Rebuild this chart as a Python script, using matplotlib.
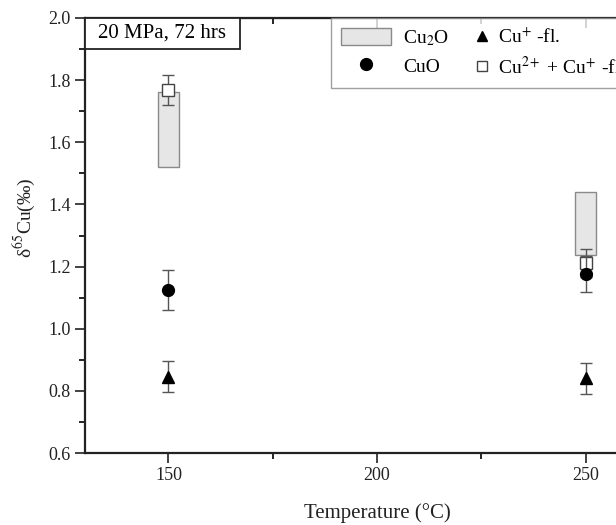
import matplotlib
matplotlib.use('Agg')
import matplotlib.pyplot as plt
from matplotlib.patches import Patch, Rectangle
from matplotlib.lines import Line2D
from matplotlib.legend_handler import HandlerLine2D

plt.rcParams['font.family'] = ['Liberation Serif', 'DejaVu Serif']
plt.rcParams['mathtext.fontset'] = 'stix'

temps = [150, 250]
# Cu2O range boxes (bottom, top)
cu2o_low = [1.52, 1.237]
cu2o_high = [1.761, 1.439]
# CuO
cuo = [1.125, 1.175]
cuo_err = [0.064, 0.058]
# Cu+ fluid
cup_fl = [0.846, 0.840]
cup_fl_err = [0.05, 0.05]
# Cu2+ + Cu+ fluid
cu2p_fl = [1.769, 1.21]
cu2p_fl_err = [0.049, 0.045]

err_color = '#555555'


class RightMarker(HandlerLine2D):
    # marker at the right end of the handle box (second legend column)
    def get_xdata(self, legend, xdescent, ydescent, width, height, fontsize):
        x = -xdescent + width - 3
        return [x, x], [x]


fig = plt.figure(figsize=(6.16, 5.25), dpi=100)
# axes run past the right edge, like the cropped original
ax = fig.add_axes([85 / 616, 72 / 525, 584 / 616, 435 / 525])

ax.bar(temps, [h - l for h, l in zip(cu2o_high, cu2o_low)], bottom=cu2o_low, width=5.2,
       color='#e6e6e6', edgecolor='#8a8a8a', linewidth=1, zorder=2)
ax.errorbar(temps, cuo, yerr=cuo_err, fmt='o', color='black', ms=8.5,
            ecolor=err_color, elinewidth=1, capsize=4, capthick=1, zorder=4)
ax.errorbar(temps, cup_fl, yerr=cup_fl_err, fmt='^', color='black', ms=9,
            ecolor=err_color, elinewidth=1, capsize=4, capthick=1, zorder=4)
ax.errorbar(temps, cu2p_fl, yerr=cu2p_fl_err, fmt='s', mfc='white', mec='#444444', ms=8,
            mew=1, ecolor=err_color, elinewidth=1, capsize=4, capthick=1, zorder=3)

ax.set_xlim(130, 270)
ax.set_ylim(0.6, 2.0)
ax.set_xticks([150, 200, 250])
ax.set_xticks([175, 225], minor=True)
ax.set_yticks([0.6, 0.8, 1.0, 1.2, 1.4, 1.6, 1.8, 2.0])
ax.set_yticklabels(['0.6', '0.8', '1.0', '1.2', '1.4', '1.6', '1.8', '2.0'])
ax.set_yticks([0.7, 0.9, 1.1, 1.3, 1.5, 1.7, 1.9], minor=True)
ax.tick_params(which='major', direction='out', length=7, width=1.2, labelsize=13, colors='#222222')
ax.tick_params(which='minor', direction='out', length=4.5, width=1.2)
ax.tick_params(axis='x', pad=3)
for s in ax.spines.values():
    s.set_linewidth(1.6)
    s.set_color('#222222')

top = ax.secondary_xaxis('top')
top.set_xticks([150, 200, 250])
top.set_xticks([175, 225], minor=True)
top.tick_params(which='both', direction='in', labeltop=False, width=1.2)
top.tick_params(which='major', length=7)
top.tick_params(which='minor', length=4.5)

ax.set_xlabel('Temperature (°C)', fontsize=15, labelpad=14, color='#222222')
ax.set_ylabel('δ$^{65}$Cu(‰)', fontsize=14, labelpad=8, color='#222222')
ax.yaxis.label.set_y(0.54)

# condition box in the top-left corner
bw, bh = 155 / 584, 31 / 435
ax.add_patch(Rectangle((0, 1 - bh), bw, bh, transform=ax.transAxes, facecolor='white',
                       edgecolor='#222222', linewidth=1.3, zorder=6, clip_on=False))
ax.text(bw / 2, 1 - bh / 2, '20 MPa, 72 hrs', transform=ax.transAxes, fontsize=15,
        ha='center', va='center', zorder=7)

handles = [
    Patch(facecolor='#e6e6e6', edgecolor='#8a8a8a', label=r'Cu$_2$O'),
    Line2D([], [], marker='o', color='black', ls='none', ms=8.5, label='CuO'),
    Line2D([], [], marker='^', color='black', ls='none', ms=7, label=r'Cu$^{+}$ -fl.'),
    Line2D([], [], marker='s', mfc='white', mec='#444444', ls='none', ms=7,
           label=r'Cu$^{2+}$ + Cu$^{+}$ -fl.'),
]
leg = ax.legend(handles=handles, ncol=2, loc='upper left',
                bbox_to_anchor=((331 - 85) / 584, 1.0), borderaxespad=0,
                fontsize=14, frameon=True, fancybox=False, handlelength=2.6,
                handleheight=1.0, handletextpad=0.6, columnspacing=-0.7,
                labelspacing=0.45, borderpad=0.5,
                handler_map={handles[2]: RightMarker(), handles[3]: RightMarker()})
leg.get_frame().set_edgecolor('#888888')
leg.get_frame().set_linewidth(1)
leg.set_zorder(6)

fig.savefig('out.png', dpi=100)
